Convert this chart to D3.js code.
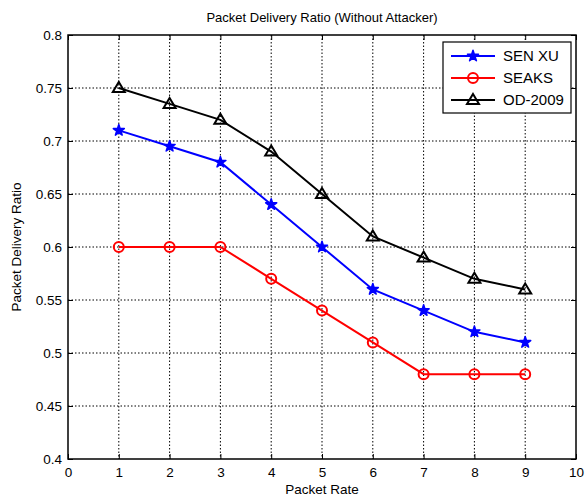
<!DOCTYPE html>
<html>
<head>
<meta charset="utf-8">
<script src="https://cdn.jsdelivr.net/npm/d3@7"></script>
<style>
  body { margin: 0; background: #fff; }
  svg { font-family: "Liberation Sans", Arial, sans-serif; }
</style>
</head>
<body>
<div id="chart"></div>
<script>
// chart values
var packetRates = [1, 2, 3, 4, 5, 6, 7, 8, 9];
var senXu = [0.71, 0.695, 0.68, 0.64, 0.60, 0.56, 0.54, 0.52, 0.51];
var seaks = [0.60, 0.60, 0.60, 0.57, 0.54, 0.51, 0.48, 0.48, 0.48];
var od2009 = [0.75, 0.735, 0.72, 0.69, 0.65, 0.61, 0.59, 0.57, 0.56];
var xTicks = [0, 1, 2, 3, 4, 5, 6, 7, 8, 9, 10];
var yTicks = [0.4, 0.45, 0.5, 0.55, 0.6, 0.65, 0.7, 0.75, 0.8];
var seriesNames = ["SEN XU", "SEAKS", "OD-2009"];

var totalW = 587, totalH = 499;
var margin = { top: 35, right: 11, bottom: 40, left: 68 },
    width = totalW - margin.left - margin.right,
    height = totalH - margin.top - margin.bottom;

var svg = d3.select("#chart").append("svg")
    .attr("width", totalW)
    .attr("height", totalH);

var g = svg.append("g")
    .attr("transform", "translate(" + margin.left + "," + margin.top + ")");

var x = d3.scaleLinear().domain([0, 10]).range([0, width]);
var y = d3.scaleLinear().domain([0.4, 0.8]).range([height, 0]);

// dotted grid
g.selectAll(".vgrid").data(xTicks.slice(1, -1)).enter().append("line")
    .attr("x1", function (d) { return x(d); })
    .attr("x2", function (d) { return x(d); })
    .attr("y1", 0).attr("y2", height)
    .attr("stroke", "#000").attr("stroke-width", 1)
    .attr("stroke-dasharray", "1.5,2");
g.selectAll(".hgrid").data(yTicks.slice(1, -1)).enter().append("line")
    .attr("y1", function (d) { return y(d); })
    .attr("y2", function (d) { return y(d); })
    .attr("x1", 0).attr("x2", width)
    .attr("stroke", "#000").attr("stroke-width", 1)
    .attr("stroke-dasharray", "1.5,2");

// axes with inward ticks, MATLAB style
var fmtY = function (d) { return d3.format("")(+d.toFixed(2)); };
g.append("g")
    .attr("transform", "translate(0," + height + ")")
    .call(d3.axisBottom(x).tickValues(xTicks).tickSize(-5).tickPadding(8));
g.append("g")
    .call(d3.axisLeft(y).tickValues(yTicks).tickFormat(fmtY).tickSize(-5).tickPadding(6));
g.append("g")
    .call(d3.axisTop(x).tickValues(xTicks).tickSize(-5).tickFormat(""));
g.append("g")
    .attr("transform", "translate(" + width + ",0)")
    .call(d3.axisRight(y).tickValues(yTicks).tickSize(-5).tickFormat(""));

g.selectAll(".domain").remove();
g.selectAll(".tick line").attr("stroke", "#000");
g.selectAll(".tick text").attr("font-size", 13.5).attr("fill", "#000")
    .attr("font-family", "Liberation Sans, Arial, sans-serif");

// box
g.append("rect")
    .attr("width", width).attr("height", height)
    .attr("fill", "none").attr("stroke", "#000").attr("stroke-width", 1.5);

var series = [
    { name: seriesNames[0], values: senXu, color: "#0000ff", marker: "star" },
    { name: seriesNames[1], values: seaks, color: "#ff0000", marker: "circle" },
    { name: seriesNames[2], values: od2009, color: "#000000", marker: "triangle" }
];

var line = d3.line()
    .x(function (d, i) { return x(packetRates[i]); })
    .y(function (d) { return y(d); });

function drawMarker(sel, s, cx, cy) {
    if (s.marker === "star") {
        sel.append("path")
            .attr("d", d3.symbol().type(d3.symbolStar).size(38)())
            .attr("transform", "translate(" + cx + "," + cy + ")")
            .attr("fill", s.color).attr("stroke", s.color).attr("stroke-width", 1.5)
            .attr("stroke-linejoin", "round");
    } else if (s.marker === "circle") {
        sel.append("circle")
            .attr("cx", cx).attr("cy", cy).attr("r", 5)
            .attr("fill", "none").attr("stroke", s.color).attr("stroke-width", 2);
    } else {
        sel.append("path")
            .attr("d", "M0,-6L6,4L-6,4Z")
            .attr("transform", "translate(" + cx + "," + cy + ")")
            .attr("fill", "none").attr("stroke", s.color).attr("stroke-width", 2);
    }
}

series.forEach(function (s) {
    g.append("path")
        .datum(s.values)
        .attr("d", line)
        .attr("fill", "none")
        .attr("stroke", s.color)
        .attr("stroke-width", 2);
    var mg = g.append("g");
    s.values.forEach(function (v, i) {
        drawMarker(mg, s, x(packetRates[i]), y(v));
    });
});

// legend
var lg = g.append("g").attr("transform", "translate(" + (443 - margin.left) + "," + (42 - margin.top) + ")");
lg.append("rect")
    .attr("width", 128).attr("height", 71)
    .attr("fill", "#fff").attr("stroke", "#000").attr("stroke-width", 1.2);
series.forEach(function (s, i) {
    var ly = 14 + i * 22;
    lg.append("line")
        .attr("x1", 8).attr("x2", 52).attr("y1", ly).attr("y2", ly)
        .attr("stroke", s.color).attr("stroke-width", 2);
    drawMarker(lg, s, 30, ly);
    lg.append("text")
        .attr("x", 60).attr("y", ly + 5)
        .attr("font-size", 15).attr("fill", "#000")
        .text(s.name);
});

// titles
svg.append("text")
    .attr("x", margin.left + width / 2).attr("y", 22)
    .attr("text-anchor", "middle").attr("font-size", 13)
    .text("Packet Delivery Ratio (Without Attacker)");
svg.append("text")
    .attr("x", margin.left + width / 2).attr("y", 494)
    .attr("text-anchor", "middle").attr("font-size", 13.5)
    .text("Packet Rate");
svg.append("text")
    .attr("transform", "translate(21," + (margin.top + height / 2) + ") rotate(-90)")
    .attr("text-anchor", "middle").attr("font-size", 13.5)
    .text("Packet Delivery Ratio");
</script>
</body>
</html>
